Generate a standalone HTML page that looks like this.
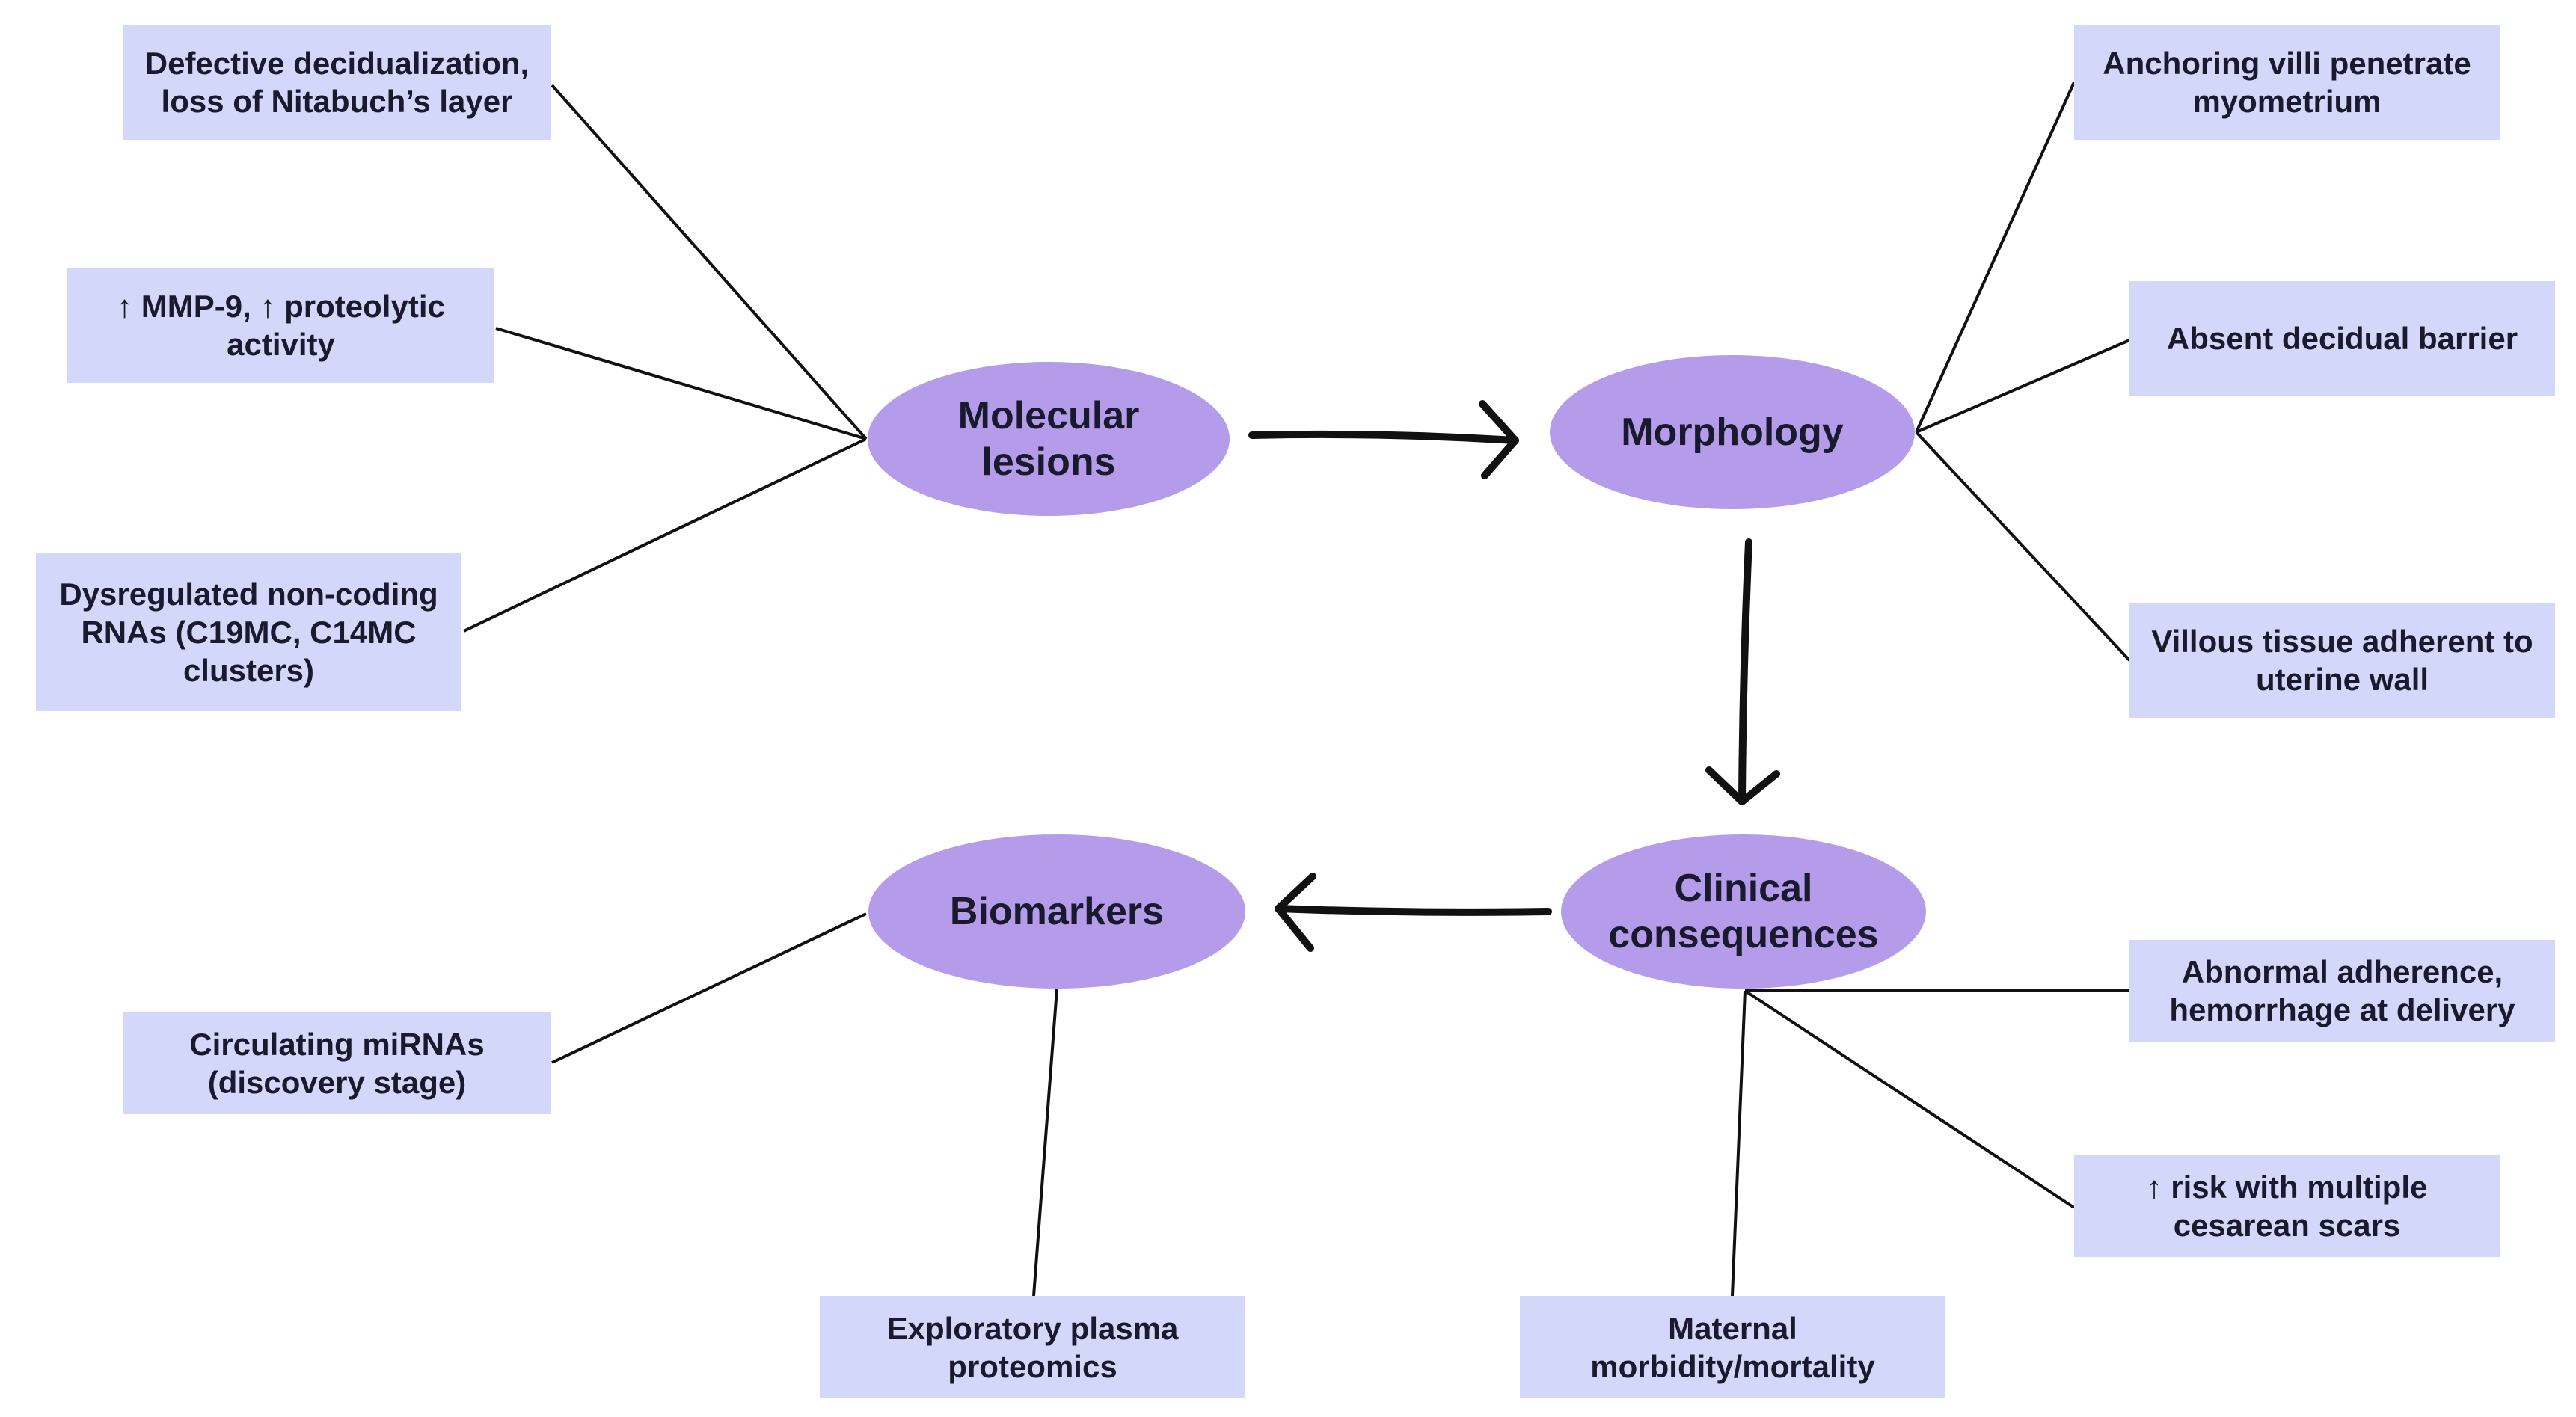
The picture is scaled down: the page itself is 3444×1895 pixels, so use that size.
<!DOCTYPE html>
<html><head><meta charset="utf-8"><style>
body{margin:0;width:3444px;height:1895px;background:#fff;position:relative;overflow:hidden;font-family:"Liberation Sans",sans-serif;font-weight:bold;color:#1a1a2e}
.b{position:absolute;background:#d3d8fa;display:flex;align-items:center;justify-content:center;text-align:center;font-size:42px;line-height:51px}
.e{position:absolute;background:#b59ceb;border-radius:50%;display:flex;align-items:center;justify-content:center;text-align:center;font-size:52px;line-height:62px}
svg{position:absolute;left:0;top:0}
</style></head><body>
<svg width="3444" height="1895">
<g stroke="#111" stroke-width="4" fill="none">
<line x1="1158" y1="587" x2="738" y2="114"/>
<line x1="1158" y1="587" x2="663" y2="439"/>
<line x1="1158" y1="587" x2="620" y2="844"/>
<line x1="2562" y1="578" x2="2773" y2="110"/>
<line x1="2562" y1="578" x2="2847" y2="455"/>
<line x1="2562" y1="578" x2="2847" y2="883"/>
<line x1="1158" y1="1222" x2="738" y2="1421"/>
<line x1="1413" y1="1323" x2="1382" y2="1733"/>
<line x1="2333" y1="1325" x2="2847" y2="1325"/>
<line x1="2333" y1="1325" x2="2773" y2="1615"/>
<line x1="2333" y1="1325" x2="2316" y2="1733"/>
</g>
<g stroke="#111" stroke-width="10" fill="none" stroke-linecap="round" stroke-linejoin="round">
<path d="M1674 582 Q1850 578 2026 589"/>
<path d="M1982 540 L2026 589 L1985 636"/>
<path d="M2338 725 Q2330 900 2329 1072"/>
<path d="M2285 1030 L2329 1072 L2375 1035"/>
<path d="M2070 1219 Q1890 1222 1709 1215"/>
<path d="M1755 1172 L1709 1215 L1752 1268"/>
</g>
</svg>
<div class="b" style="left:165px;top:33px;width:571px;height:154px">Defective decidualization,<br>loss of Nitabuch’s layer</div>
<div class="b" style="left:90px;top:358px;width:571px;height:154px">↑ MMP-9, ↑ proteolytic<br>activity</div>
<div class="b" style="left:48px;top:740px;width:569px;height:211px">Dysregulated non-coding<br>RNAs (C19MC, C14MC<br>clusters)</div>
<div class="b" style="left:2773px;top:33px;width:569px;height:154px">Anchoring villi penetrate<br>myometrium</div>
<div class="b" style="left:2847px;top:376px;width:569px;height:153px">Absent decidual barrier</div>
<div class="b" style="left:2847px;top:806px;width:569px;height:154px">Villous tissue adherent to<br>uterine wall</div>
<div class="b" style="left:165px;top:1353px;width:571px;height:137px">Circulating miRNAs<br>(discovery stage)</div>
<div class="b" style="left:1096px;top:1733px;width:569px;height:137px">Exploratory plasma<br>proteomics</div>
<div class="b" style="left:2032px;top:1733px;width:569px;height:137px">Maternal<br>morbidity/mortality</div>
<div class="b" style="left:2847px;top:1257px;width:569px;height:136px">Abnormal adherence,<br>hemorrhage at delivery</div>
<div class="b" style="left:2773px;top:1545px;width:569px;height:136px">↑ risk with multiple<br>cesarean scars</div>
<div class="e" style="left:1160px;top:484px;width:484px;height:206px">Molecular<br>lesions</div>
<div class="e" style="left:2072px;top:475px;width:488px;height:206px">Morphology</div>
<div class="e" style="left:2087px;top:1116px;width:488px;height:206px">Clinical<br>consequences</div>
<div class="e" style="left:1161px;top:1116px;width:504px;height:206px">Biomarkers</div>
</body></html>
